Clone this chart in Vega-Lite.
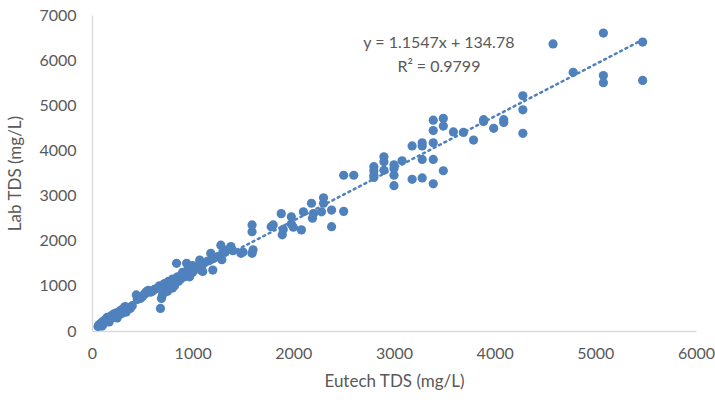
{
  "$schema": "https://vega.github.io/schema/vega-lite/v6.json",
  "width": 604,
  "height": 316,
  "autosize": {"type": "none"},
  "padding": {"left": 92, "top": 15, "right": 19, "bottom": 72},
  "background": "white",
  "config": {
    "view": {"stroke": null},
    "font": "Lato",
    "axis": {"grid": false, "ticks": false, "labelFlush": false, "format": "d", "domainColor": "#d9d9d9", "domainWidth": 1.3, "labelColor": "#595959", "titleColor": "#595959", "labelFont": "Lato", "titleFont": "Lato", "labelFontSize": 16, "titleFontSize": 17, "titleFontWeight": "normal"}
  },
  "datasets": {
    "points": [
      {"eutech": 60, "lab": 100}, {"eutech": 70, "lab": 140}, {"eutech": 80, "lab": 120}, {"eutech": 90, "lab": 160},
      {"eutech": 100, "lab": 110}, {"eutech": 100, "lab": 200}, {"eutech": 110, "lab": 150}, {"eutech": 120, "lab": 180},
      {"eutech": 130, "lab": 250}, {"eutech": 140, "lab": 220}, {"eutech": 150, "lab": 300}, {"eutech": 160, "lab": 260},
      {"eutech": 170, "lab": 200}, {"eutech": 180, "lab": 320}, {"eutech": 190, "lab": 280}, {"eutech": 200, "lab": 350},
      {"eutech": 210, "lab": 300}, {"eutech": 220, "lab": 380}, {"eutech": 230, "lab": 330}, {"eutech": 240, "lab": 400},
      {"eutech": 250, "lab": 290}, {"eutech": 260, "lab": 360}, {"eutech": 270, "lab": 420}, {"eutech": 280, "lab": 450},
      {"eutech": 290, "lab": 380}, {"eutech": 300, "lab": 400}, {"eutech": 310, "lab": 500}, {"eutech": 320, "lab": 460},
      {"eutech": 330, "lab": 540}, {"eutech": 340, "lab": 420}, {"eutech": 350, "lab": 480}, {"eutech": 360, "lab": 520},
      {"eutech": 380, "lab": 500}, {"eutech": 400, "lab": 560}, {"eutech": 440, "lab": 800}, {"eutech": 450, "lab": 700},
      {"eutech": 480, "lab": 720}, {"eutech": 500, "lab": 760}, {"eutech": 520, "lab": 820}, {"eutech": 540, "lab": 870},
      {"eutech": 560, "lab": 900}, {"eutech": 580, "lab": 860}, {"eutech": 600, "lab": 880}, {"eutech": 620, "lab": 920},
      {"eutech": 650, "lab": 950}, {"eutech": 670, "lab": 1000}, {"eutech": 680, "lab": 500}, {"eutech": 690, "lab": 720},
      {"eutech": 700, "lab": 800}, {"eutech": 700, "lab": 900}, {"eutech": 720, "lab": 1050}, {"eutech": 740, "lab": 1000},
      {"eutech": 750, "lab": 880}, {"eutech": 760, "lab": 1100}, {"eutech": 780, "lab": 1050}, {"eutech": 800, "lab": 1150},
      {"eutech": 800, "lab": 950}, {"eutech": 820, "lab": 1000}, {"eutech": 840, "lab": 1500}, {"eutech": 850, "lab": 1200},
      {"eutech": 860, "lab": 1100}, {"eutech": 880, "lab": 1150}, {"eutech": 900, "lab": 1250}, {"eutech": 900, "lab": 1300},
      {"eutech": 920, "lab": 1200}, {"eutech": 940, "lab": 1500}, {"eutech": 950, "lab": 1350}, {"eutech": 960, "lab": 1250},
      {"eutech": 970, "lab": 1200}, {"eutech": 980, "lab": 1400}, {"eutech": 1000, "lab": 1300}, {"eutech": 1000, "lab": 1450},
      {"eutech": 1050, "lab": 1400}, {"eutech": 1070, "lab": 1570}, {"eutech": 1080, "lab": 1350}, {"eutech": 1100, "lab": 1480},
      {"eutech": 1100, "lab": 1320}, {"eutech": 1150, "lab": 1550}, {"eutech": 1180, "lab": 1720}, {"eutech": 1200, "lab": 1350},
      {"eutech": 1200, "lab": 1600}, {"eutech": 1250, "lab": 1650}, {"eutech": 1280, "lab": 1900}, {"eutech": 1290, "lab": 1580},
      {"eutech": 1300, "lab": 1750}, {"eutech": 1350, "lab": 1800}, {"eutech": 1380, "lab": 1870}, {"eutech": 1400, "lab": 1780},
      {"eutech": 1480, "lab": 1720}, {"eutech": 1500, "lab": 1750}, {"eutech": 1590, "lab": 2350}, {"eutech": 1590, "lab": 2200},
      {"eutech": 1590, "lab": 1720}, {"eutech": 1600, "lab": 1800},
      {"eutech": 1780, "lab": 2310}, {"eutech": 1800, "lab": 2350}, {"eutech": 1880, "lab": 2600}, {"eutech": 1890, "lab": 2130},
      {"eutech": 1900, "lab": 2250}, {"eutech": 1980, "lab": 2530}, {"eutech": 1980, "lab": 2370}, {"eutech": 2000, "lab": 2300},
      {"eutech": 2080, "lab": 2240}, {"eutech": 2100, "lab": 2640}, {"eutech": 2180, "lab": 2830}, {"eutech": 2190, "lab": 2500},
      {"eutech": 2200, "lab": 2600}, {"eutech": 2280, "lab": 2640}, {"eutech": 2300, "lab": 2830}, {"eutech": 2300, "lab": 2950},
      {"eutech": 2380, "lab": 2680}, {"eutech": 2380, "lab": 2310}, {"eutech": 2500, "lab": 2650}, {"eutech": 2500, "lab": 3450},
      {"eutech": 2600, "lab": 3450},
      {"eutech": 2800, "lab": 3640}, {"eutech": 2800, "lab": 3450}, {"eutech": 2800, "lab": 3400}, {"eutech": 2800, "lab": 3550},
      {"eutech": 2900, "lab": 3860}, {"eutech": 2900, "lab": 3560}, {"eutech": 2900, "lab": 3750}, {"eutech": 3000, "lab": 3680},
      {"eutech": 3000, "lab": 3450}, {"eutech": 3000, "lab": 3220}, {"eutech": 3000, "lab": 3600}, {"eutech": 3080, "lab": 3770},
      {"eutech": 3180, "lab": 4100}, {"eutech": 3180, "lab": 3360}, {"eutech": 3280, "lab": 4170}, {"eutech": 3280, "lab": 3800},
      {"eutech": 3280, "lab": 3390}, {"eutech": 3280, "lab": 4100}, {"eutech": 3390, "lab": 4670}, {"eutech": 3390, "lab": 4440},
      {"eutech": 3390, "lab": 4170}, {"eutech": 3390, "lab": 3800}, {"eutech": 3390, "lab": 3260}, {"eutech": 3490, "lab": 4710},
      {"eutech": 3490, "lab": 4540}, {"eutech": 3490, "lab": 3550}, {"eutech": 3590, "lab": 4410}, {"eutech": 3690, "lab": 4400},
      {"eutech": 3790, "lab": 4230}, {"eutech": 3890, "lab": 4640}, {"eutech": 3890, "lab": 4680}, {"eutech": 3990, "lab": 4490},
      {"eutech": 4090, "lab": 4620}, {"eutech": 4090, "lab": 4680}, {"eutech": 4280, "lab": 5210}, {"eutech": 4280, "lab": 4900},
      {"eutech": 4280, "lab": 4380}, {"eutech": 4580, "lab": 6360}, {"eutech": 4780, "lab": 5730}, {"eutech": 5080, "lab": 6600},
      {"eutech": 5080, "lab": 5660}, {"eutech": 5080, "lab": 5500}, {"eutech": 5470, "lab": 6400}, {"eutech": 5470, "lab": 5550}
    ],
    "trend": [
      {"eutech": 60, "lab": 204},
      {"eutech": 5470, "lab": 6451}
    ],
    "labels": [
      {"eutech": 3446, "lab": 6380, "text": "y = 1.1547x + 134.78"},
      {"eutech": 3446, "lab": 5855, "text": "R² = 0.9799"}
    ]
  },
  "layer": [
    {
      "data": {"name": "points"},
      "mark": {"type": "circle", "size": 85, "color": "#4F81BD", "opacity": 1},
      "encoding": {
        "x": {"field": "eutech", "type": "quantitative", "scale": {"domain": [0, 6000], "nice": false}, "axis": {"title": "Eutech TDS (mg/L)", "values": [0, 1000, 2000, 3000, 4000, 5000, 6000], "labelPadding": 14, "titlePadding": 12}},
        "y": {"field": "lab", "type": "quantitative", "scale": {"domain": [0, 7000], "nice": false}, "axis": {"title": "Lab TDS (mg/L)", "values": [0, 1000, 2000, 3000, 4000, 5000, 6000, 7000], "labelPadding": 16, "titlePadding": 14}}
      }
    },
    {
      "data": {"name": "trend"},
      "mark": {"type": "line", "color": "#4F81BD", "strokeWidth": 2.5, "strokeDash": [2, 4], "strokeCap": "round"},
      "encoding": {
        "x": {"field": "eutech", "type": "quantitative"},
        "y": {"field": "lab", "type": "quantitative"}
      }
    },
    {
      "data": {"name": "labels"},
      "mark": {"type": "text", "color": "#595959", "font": "Lato", "fontSize": 16, "align": "center", "baseline": "middle"},
      "encoding": {
        "x": {"field": "eutech", "type": "quantitative"},
        "y": {"field": "lab", "type": "quantitative"},
        "text": {"field": "text"}
      }
    }
  ]
}
